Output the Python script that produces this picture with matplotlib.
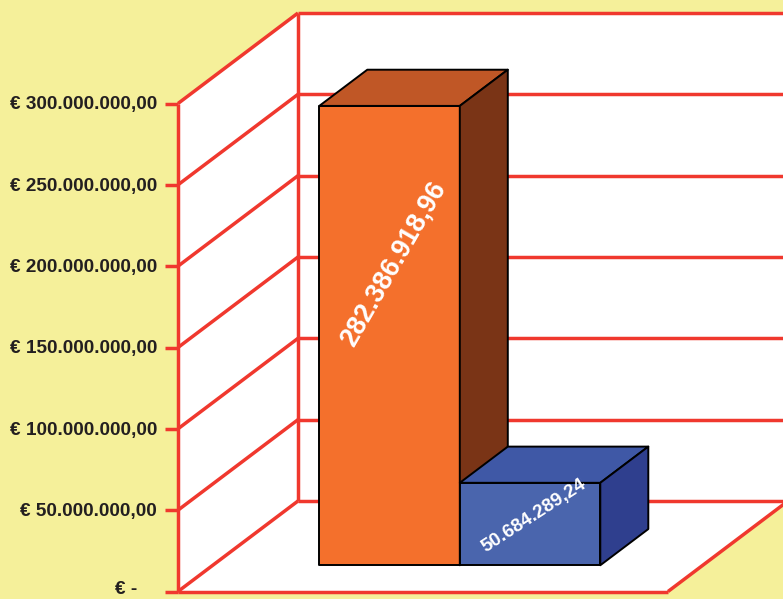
import matplotlib
matplotlib.use("Agg")
import matplotlib.pyplot as plt
from matplotlib.patches import Polygon

categories = ["A", "B"]
values = [282386918.96, 50684289.24]
value_labels = ["282.386.918,96", "50.684.289,24"]
tick_values = [0, 50e6, 100e6, 150e6, 200e6, 250e6, 300e6]
tick_labels = ["€ -", "€ 50.000.000,00", "€ 100.000.000,00", "€ 150.000.000,00",
               "€ 200.000.000,00", "€ 250.000.000,00", "€ 300.000.000,00"]
front_colors = ["#F4702C", "#4A65AD"]
top_colors = ["#C05726", "#3F58A6"]
side_colors = ["#7A3416", "#2F3F8E"]

W, H = 783, 599
BG = "#F5F09A"
RED = "#F0382E"
X0, Y0 = 178, 591.5         # pixel of origin
PX_PER_UNIT = 140.5         # bar width
PX_PER_EURO = 488 / 300e6
DEPTH_X, DEPTH_Y = 120, 90.5  # wall depth in px
WALL_W = 490 / PX_PER_UNIT

fig = plt.figure(figsize=(W / 100, H / 100), dpi=100, facecolor=BG)
ax = fig.add_axes([0, 0, 1, 1])
ax.set_xlim(-X0 / PX_PER_UNIT, (W - X0) / PX_PER_UNIT)
ax.set_ylim(-(H - Y0) / PX_PER_EURO, Y0 / PX_PER_EURO)
ax.axis("off")

def P(x, y, d=0.0):
    return (x + d * DEPTH_X / PX_PER_UNIT, y + d * DEPTH_Y / PX_PER_EURO)

top = tick_values[-1]
lw = 2.5
# wall and floor fill
ax.add_patch(Polygon([P(0, 0), P(0, top), P(0, top, 1), P(0, 0, 1)], fc="white", ec="none", zorder=1))
ax.add_patch(Polygon([P(0, 0, 1), P(0, top, 1), P(WALL_W, top, 1), P(WALL_W, 0, 1)], fc="white", ec="none", zorder=1))
ax.add_patch(Polygon([P(0, 0), P(WALL_W, 0), P(WALL_W, 0, 1), P(0, 0, 1)], fc="white", ec="none", zorder=1))

def line(a, b):
    ax.plot([a[0], b[0]], [a[1], b[1]], color=RED, lw=lw, solid_capstyle="butt", zorder=2, clip_on=False)

for t in tick_values:
    line(P(0, t), P(0, t, 1))
    line(P(0, t, 1), P(WALL_W, t, 1))
    line(P(-13 / PX_PER_UNIT, t), P(0, t))
line(P(0, 0), P(0, top))
line(P(0, 0, 1), P(0, top, 1))
line(P(0, 0), P(WALL_W, 0))
line(P(WALL_W, 0), P(WALL_W, 0, 1))

# axis labels
for t, s in zip(tick_values, tick_labels):
    xpos = -41 / PX_PER_UNIT if t == 0 else -21 / PX_PER_UNIT
    yoff = 1.5 if t == 0 else -1.2
    ax.text(xpos, t + yoff / PX_PER_EURO, s, ha="right", va="center",
            family="Liberation Sans", weight="bold", fontsize=13.7, color="#231F20", zorder=5)

# bars
D0, D1 = 0.29, 0.69
bar_start = 106.5 / PX_PER_UNIT
rotations = [60, 33]
sizes = [19.2, 13.6]
label_fracs = [0.657, 0.6]
for i, (v, lab) in enumerate(zip(values, value_labels)):
    x0 = bar_start + i
    x1 = x0 + 1
    kw = dict(ec="black", lw=1.4, joinstyle="round", zorder=3 + 0.1 * i)
    ax.add_patch(Polygon([P(x0, 0, D0), P(x1, 0, D0), P(x1, v, D0), P(x0, v, D0)], fc=front_colors[i], **kw))
    ax.add_patch(Polygon([P(x0, v, D0), P(x1, v, D0), P(x1, v, D1), P(x0, v, D1)], fc=top_colors[i], **kw))
    ax.add_patch(Polygon([P(x1, 0, D0), P(x1, 0, D1), P(x1, v, D1), P(x1, v, D0)], fc=side_colors[i], **kw))
    cx, cy = P((x0 + x1) / 2 + 4 / PX_PER_UNIT, v * label_fracs[i], D0)
    ax.text(cx, cy, lab, rotation=rotations[i], ha="center", va="center", rotation_mode="anchor",
            family="Liberation Sans", weight="bold", fontsize=sizes[i], color="white", zorder=6)

fig.savefig("out.png", dpi=100, facecolor=BG)
